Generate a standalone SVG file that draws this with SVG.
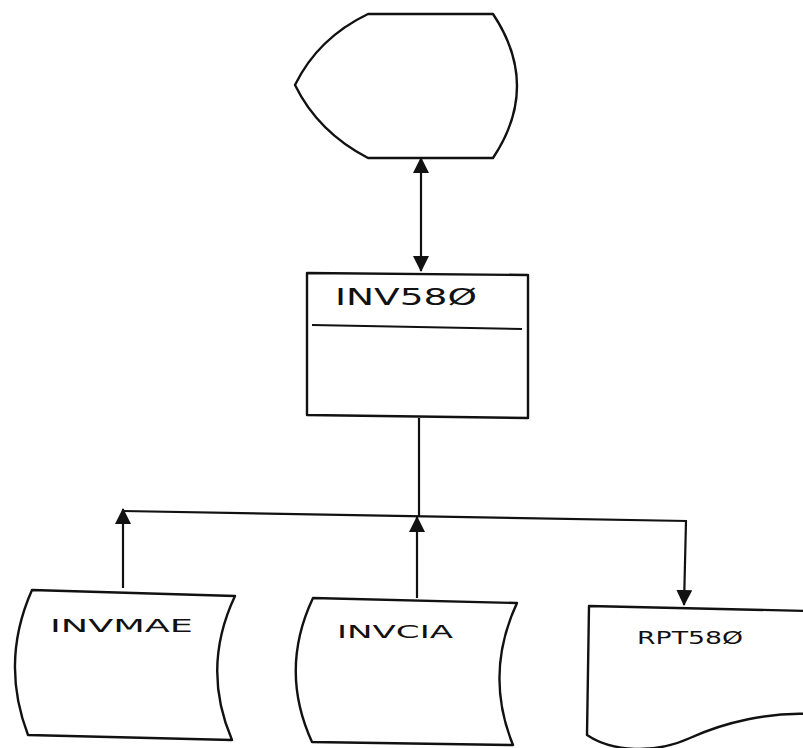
<svg xmlns="http://www.w3.org/2000/svg" width="803" height="748" viewBox="0 0 803 748">
<defs>
<style>
.sh{fill:#fff;stroke:#111;stroke-width:2.4;stroke-linejoin:round}
.cn{fill:none;stroke:#111;stroke-width:2.2}
.lb{font-family:"DejaVu Sans","Liberation Sans",sans-serif;fill:#111;font-weight:normal}
</style>
<marker id="ah" viewBox="0 0 16 16" markerWidth="16" markerHeight="16" refX="15" refY="8" orient="auto-start-reverse" markerUnits="userSpaceOnUse">
<path d="M0,0 L16,8 L0,16 Z" fill="#111"/>
</marker>
</defs>
<rect width="803" height="748" fill="#fff"/>
<g id="display">
<path class="sh" d="M368,14 L493,14 Q541,86 493,158 L368,158 Q318,132 295,85 Q318,38 368,14 Z"/>
</g>
<g id="INV580">
<path class="sh" d="M307,273 L528,275 L528,418 L307,415 Z"/>
<line class="cn" x1="312" y1="325" x2="522" y2="329"/>
<text class="lb" x="335" y="305" font-size="23" textLength="142" lengthAdjust="spacingAndGlyphs">INV58Ø</text>
</g>
<g id="INVMAE">
<path class="sh" d="M32,590 L235,596 Q201,668 232,740 L28,735 Q0,662 32,590 Z"/>
<text class="lb" x="50" y="632" font-size="18" textLength="143" lengthAdjust="spacingAndGlyphs">INVMAE</text>
</g>
<g id="INVCIA">
<path class="sh" d="M313,598 L517,603 Q484,674 513,745 L312,742 Q279,670 313,598 Z"/>
<text class="lb" x="337" y="638" font-size="18" textLength="116" lengthAdjust="spacingAndGlyphs">INVCIA</text>
</g>
<g id="RPT580">
<path class="sh" d="M589,606 L810,611 L810,714 C770,712 725,722 690,738 C655,754 612,752 587,735 Z"/>
<text class="lb" x="637" y="644" font-size="18" textLength="106" lengthAdjust="spacingAndGlyphs">RPT58Ø</text>
</g>
<g id="connectors">
<line class="cn" x1="421" y1="158" x2="421" y2="271" marker-start="url(#ah)" marker-end="url(#ah)"/>
<line class="cn" x1="419" y1="418" x2="419" y2="516"/>
<polyline class="cn" points="123,511 687,521"/>
<line class="cn" x1="123" y1="588" x2="123" y2="509" marker-end="url(#ah)"/>
<line class="cn" x1="417" y1="598" x2="417" y2="517" marker-end="url(#ah)"/>
<line class="cn" x1="686" y1="521" x2="684" y2="605" marker-end="url(#ah)"/>
</g>
</svg>
